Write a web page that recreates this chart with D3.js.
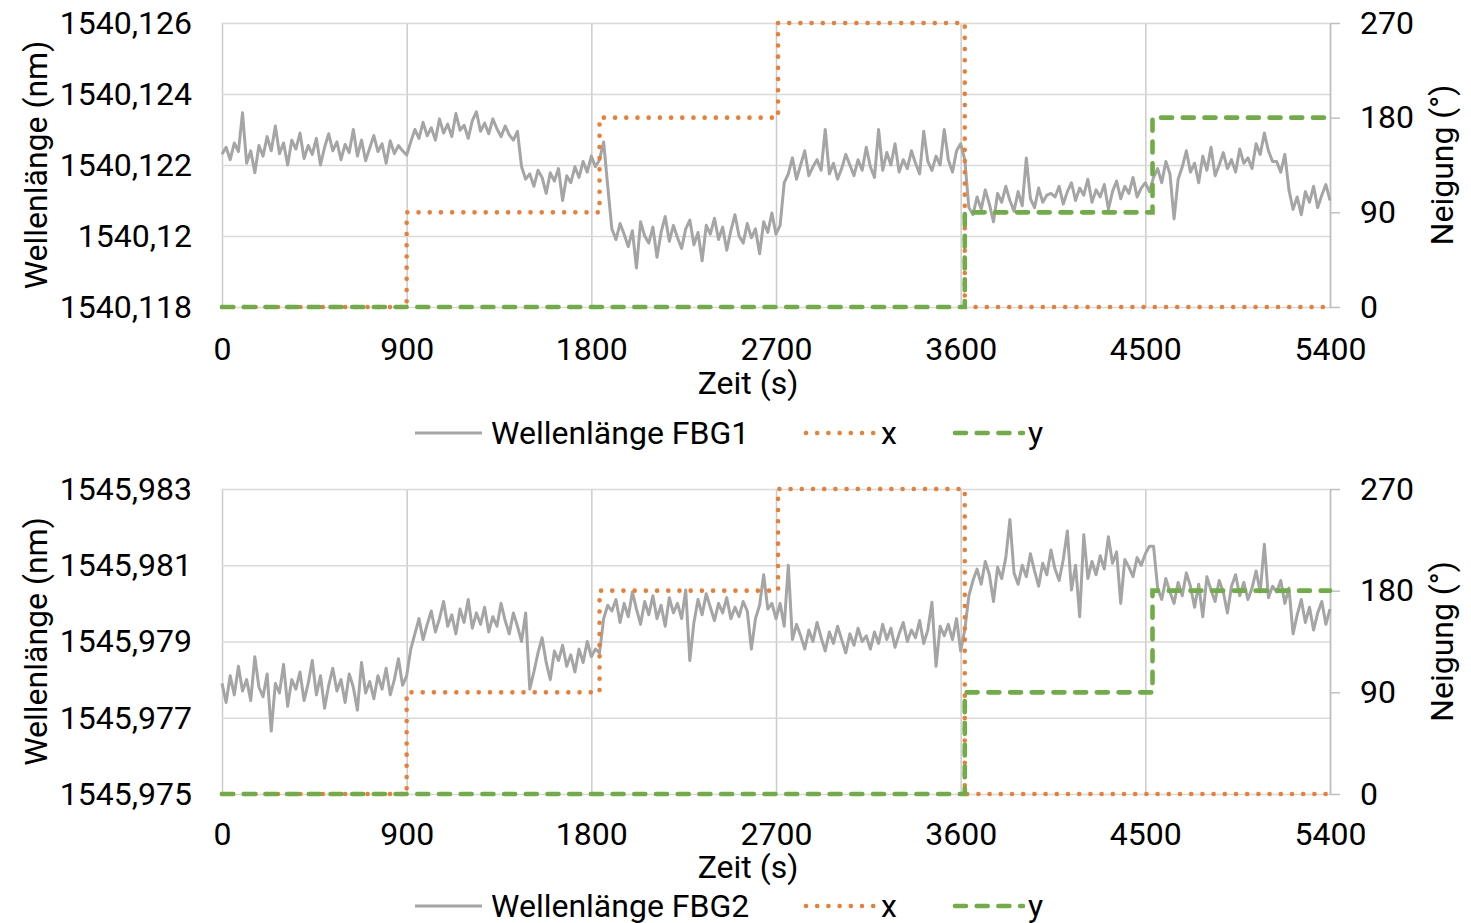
<!DOCTYPE html>
<html>
<head>
<meta charset="utf-8">
<script src="https://cdn.jsdelivr.net/npm/d3@7"></script>
<style>
  body { margin: 0; background: #fff; }
  text { font-family: Roboto, "Noto Sans", sans-serif; }
</style>
</head>
<body>
<svg id="chart" width="1471" height="923"></svg>
<script>
// sampling interval of the wavelength series (s)
var sampleStep = 20;

// Wellenlänge FBG1 (nm), one value every 20 s from 0 to 5400 s
var fbg1 = [
  1540.1223, 1540.1225, 1540.12215, 1540.12262, 1540.12238, 1540.12347, 1540.12205, 1540.1224, 1540.12178, 1540.12255,
  1540.12225, 1540.1228, 1540.1224, 1540.1231, 1540.12232, 1540.12262, 1540.122, 1540.1227, 1540.12245, 1540.1229,
  1540.12218, 1540.12255, 1540.1223, 1540.12275, 1540.122, 1540.1225, 1540.12288, 1540.1224, 1540.12265, 1540.12215,
  1540.12258, 1540.12235, 1540.123, 1540.12225, 1540.1227, 1540.12212, 1540.12248, 1540.12283, 1540.12238, 1540.1226,
  1540.12205, 1540.12268, 1540.12232, 1540.12255, 1540.1224, 1540.12228,
  1540.12265, 1540.123, 1540.12275, 1540.1232, 1540.12282,
  1540.12305, 1540.1227, 1540.1233, 1540.1229, 1540.12315,
  1540.1228, 1540.12345, 1540.12298, 1540.12312, 1540.12275,
  1540.12325, 1540.1235, 1540.12295, 1540.12318, 1540.12288,
  1540.1233, 1540.12302, 1540.1228, 1540.1231, 1540.12285, 1540.1227, 1540.12295,
  1540.12195, 1540.1216, 1540.12175, 1540.1214, 1540.12185, 1540.12165, 1540.1212, 1540.12178, 1540.12155, 1540.1219,
  1540.121, 1540.1217, 1540.1215, 1540.12195, 1540.12165, 1540.1221, 1540.1218, 1540.12225, 1540.12195,
  1540.12215, 1540.12265, 1540.1214,
  1540.1202, 1540.1199, 1540.12035, 1540.12005, 1540.1197, 1540.12015, 1540.1191, 1540.1204, 1540.12, 1540.1198,
  1540.12025, 1540.1194, 1540.1201, 1540.12055, 1540.11985, 1540.1203, 1540.11995, 1540.11965, 1540.1202, 1540.12045,
  1540.11975, 1540.1201, 1540.1193, 1540.1203, 1540.12005, 1540.1205, 1540.1199, 1540.12025, 1540.1196, 1540.12015,
  1540.1206, 1540.12, 1540.1198, 1540.12035, 1540.11995, 1540.1202, 1540.1195, 1540.1204, 1540.1201, 1540.12065,
  1540.12005, 1540.1203,
  1540.1215, 1540.12175, 1540.1222, 1540.1216, 1540.122, 1540.1224, 1540.1217, 1540.12195, 1540.12215, 1540.12185,
  1540.123, 1540.12175, 1540.12205, 1540.1216, 1540.1219, 1540.1223, 1540.122, 1540.1217, 1540.12215, 1540.12185,
  1540.1225, 1540.12195, 1540.12165, 1540.123, 1540.12185, 1540.12235, 1540.122, 1540.1226, 1540.1218, 1540.12215,
  1540.1219, 1540.1224, 1540.12205, 1540.12175, 1540.12295, 1540.1221, 1540.12185, 1540.12225, 1540.122, 1540.123,
  1540.12215, 1540.1218, 1540.1224, 1540.1226, 1540.12215,
  1540.1208, 1540.1206, 1540.1211, 1540.12075, 1540.1213, 1540.1209, 1540.1204, 1540.1212, 1540.12095, 1540.1214,
  1540.121, 1540.1207, 1540.12125, 1540.12085, 1540.1222, 1540.12105, 1540.1208, 1540.12135, 1540.12095, 1540.12115,
  1540.1212, 1540.1211, 1540.1214, 1540.1209, 1540.12125, 1540.1215, 1540.121, 1540.12135, 1540.12115, 1540.1216,
  1540.12095, 1540.1213, 1540.1211, 1540.12145, 1540.12075, 1540.12125, 1540.12155, 1540.12105, 1540.1214, 1540.1212,
  1540.12165, 1540.1211, 1540.12135, 1540.1215, 1540.12125,
  1540.12165, 1540.1219, 1540.1215, 1540.1221, 1540.12175, 1540.12048, 1540.1216, 1540.12195, 1540.1224, 1540.1218,
  1540.12205, 1540.1215, 1540.12225, 1540.12185, 1540.1225, 1540.1217, 1540.122, 1540.12235, 1540.1219, 1540.12215,
  1540.1218, 1540.12245, 1540.12205, 1540.1222, 1540.1219, 1540.1226, 1540.1223, 1540.1229, 1540.1224, 1540.1221,
  1540.1221, 1540.1218, 1540.1223, 1540.1213, 1540.12075, 1540.1211, 1540.1206, 1540.12125, 1540.12095, 1540.1214,
  1540.1208, 1540.12115, 1540.12145, 1540.121
];

// Wellenlänge FBG2 (nm), one value every 20 s from 0 to 5400 s
var fbg2 = [
  1545.9779, 1545.9774, 1545.9781, 1545.9776, 1545.97835, 1545.9777, 1545.978, 1545.97745, 1545.9786, 1545.9778,
  1545.97755, 1545.97815, 1545.97665, 1545.9779, 1545.97765, 1545.9784, 1545.9773, 1545.978, 1545.97775, 1545.9782,
  1545.97745, 1545.9779, 1545.9785, 1545.9776, 1545.9781, 1545.97725, 1545.97785, 1545.9783, 1545.9777, 1545.978,
  1545.9774, 1545.97815, 1545.9778, 1545.9772, 1545.97845, 1545.97765, 1545.97795, 1545.9775, 1545.9781, 1545.97775,
  1545.9783, 1545.9776, 1545.978, 1545.97855, 1545.97785, 1545.9781,
  1545.9788, 1545.9792, 1545.9796, 1545.97905, 1545.97945, 1545.9798, 1545.97925, 1545.9796, 1545.98005, 1545.9794,
  1545.9797, 1545.9792, 1545.97985, 1545.9795, 1545.9801, 1545.97935, 1545.97975, 1545.97945, 1545.9799, 1545.97925,
  1545.97965, 1545.9794, 1545.98, 1545.97955, 1545.9792, 1545.97975, 1545.9794,
  1545.979, 1545.97975, 1545.97775, 1545.9782, 1545.9787, 1545.9791, 1545.97845, 1545.978, 1545.97875, 1545.9785,
  1545.9789, 1545.97835, 1545.97865, 1545.9782, 1545.9788, 1545.97845, 1545.979, 1545.9786, 1545.9788,
  1545.9787, 1545.9796, 1545.97995,
  1545.9798, 1545.9801, 1545.9795, 1545.98, 1545.97965, 1545.9803, 1545.97985, 1545.97945, 1545.98005, 1545.9797,
  1545.9802, 1545.9796, 1545.97995, 1545.9794, 1545.98015, 1545.97975, 1545.98, 1545.9796, 1545.98035, 1545.9785,
  1545.9795, 1545.9801, 1545.9797, 1545.98025, 1545.9799, 1545.97955, 1545.98, 1545.97975, 1545.98015, 1545.9796,
  1545.9799, 1545.97965, 1545.98005, 1545.9798, 1545.9788, 1545.9796, 1545.97995, 1545.98075, 1545.97985, 1545.98,
  1545.9796, 1545.98,
  1545.9794, 1545.981, 1545.97905, 1545.97945, 1545.97915, 1545.9788, 1545.9793, 1545.979, 1545.9795, 1545.9791,
  1545.97875, 1545.97925, 1545.97895, 1545.9794, 1545.97905, 1545.9787, 1545.9792, 1545.9789, 1545.97935, 1545.979,
  1545.97915, 1545.9788, 1545.97925, 1545.97895, 1545.97945, 1545.97905, 1545.97935, 1545.97885, 1545.9792, 1545.9795,
  1545.979, 1545.9793, 1545.9791, 1545.97955, 1545.97895, 1545.9793, 1545.98003, 1545.97835, 1545.9794, 1545.97915,
  1545.97945, 1545.97905, 1545.9796, 1545.97875, 1545.9793,
  1545.9802, 1545.9806, 1545.9809, 1545.9805, 1545.9811, 1545.98075, 1545.98005, 1545.98095, 1545.98065, 1545.9812,
  1545.9822, 1545.9808, 1545.9805, 1545.981, 1545.9807, 1545.9813, 1545.98085, 1545.98045, 1545.98105, 1545.98075,
  1545.9814, 1545.9809, 1545.9806, 1545.98115, 1545.9819, 1545.98035, 1545.981, 1545.97965, 1545.9818, 1545.98065,
  1545.9811, 1545.98075, 1545.98125, 1545.9809, 1545.98175, 1545.98105, 1545.98135, 1545.98, 1545.98115, 1545.98095,
  1545.9807, 1545.9812, 1545.981, 1545.9813, 1545.9815,
  1545.9815, 1545.9804, 1545.9801, 1545.98065, 1545.9803, 1545.98, 1545.98055, 1545.9802, 1545.9808, 1545.98045,
  1545.9799, 1545.9805, 1545.97965, 1545.9807, 1545.98035, 1545.98005, 1545.9806, 1545.9803, 1545.97975, 1545.98045,
  1545.98075, 1545.9802, 1545.98055, 1545.9801, 1545.9804, 1545.98085, 1545.9803, 1545.98155, 1545.98015, 1545.98045,
  1545.9803, 1545.9806, 1545.98, 1545.9804, 1545.9792, 1545.9797, 1545.9801, 1545.9795, 1545.9799, 1545.9793,
  1545.97975, 1545.98005, 1545.97945, 1545.97985
];

// inclination steps (same for both sensors)
var xStepTimes = [0, 900, 1840, 2710, 3620, 5400];
var xStepAngles = [0, 90, 180, 270, 0, 0];
var yStepTimes = [0, 3620, 4535, 5400];
var yStepAngles = [0, 90, 180, 180];

// axis ticks
var timeTicks = [0, 900, 1800, 2700, 3600, 4500, 5400];
var angleTicks = [0, 90, 180, 270];
var wlTicks1 = [1540.118, 1540.120, 1540.122, 1540.124, 1540.126];
var wlTicks2 = [1545.975, 1545.977, 1545.979, 1545.981, 1545.983];
var legendNames = ["Wellenlänge FBG1", "Wellenlänge FBG2"];

var plotLeft = 222, plotRight = 1330;
var fontSize = 32;
var grey = "#a5a5a5", orange = "#ed7d31", green = "#70ad47";
var greyWidth = 3, dotWidth = 4.6, dashWidth = 4.6;

var deFormat = d3.formatLocale({decimal: ",", thousands: ".", grouping: [3], currency: ["", "€"]}).format(".3~f");

var svg = d3.select("#chart");

var x = d3.scaleLinear().domain([0, 5400]).range([plotLeft, plotRight]);

function drawPanel(cfg) {
  var g = svg.append("g");
  var y = d3.scaleLinear().domain([cfg.ticks[0], cfg.ticks[cfg.ticks.length - 1]]).range([cfg.bottom, cfg.top]);
  var y2 = d3.scaleLinear().domain([0, 270]).range([cfg.bottom, cfg.top]);

  // vertical gridlines + time labels
  var xg = g.append("g")
      .attr("transform", "translate(0," + cfg.bottom + ")")
      .call(d3.axisBottom(x).tickValues(timeTicks).tickSize(-(cfg.bottom - cfg.top)).tickPadding(cfg.xPad).tickFormat(d3.format("d")));
  xg.select(".domain").remove();
  xg.selectAll(".tick line").attr("stroke", "#cccccc").attr("stroke-width", 1.5);
  xg.selectAll("text").attr("font-size", fontSize).attr("font-family", "Roboto").attr("fill", "#000");

  // horizontal gridlines + wavelength labels
  var yg = g.append("g")
      .attr("transform", "translate(" + plotLeft + ",0)")
      .call(d3.axisLeft(y).tickValues(cfg.ticks).tickSize(-(plotRight - plotLeft)).tickPadding(30).tickFormat(deFormat));
  yg.select(".domain").remove();
  yg.selectAll(".tick line").attr("stroke", "#d9d9d9").attr("stroke-width", 1.5);
  yg.selectAll("text").attr("font-size", fontSize).attr("font-family", "Roboto").attr("fill", "#000");

  // secondary axis (Neigung)
  var y2g = g.append("g")
      .attr("transform", "translate(" + plotRight + ",0)")
      .call(d3.axisRight(y2).tickValues(angleTicks).tickSize(10).tickSizeOuter(0).tickPadding(20));
  y2g.select(".domain").attr("stroke", "#bfbfbf").attr("stroke-width", 1.5);
  y2g.selectAll(".tick line").attr("stroke", "#bfbfbf").attr("stroke-width", 1.5);
  y2g.selectAll("text").attr("font-size", fontSize).attr("font-family", "Roboto").attr("fill", "#000");

  // wavelength series
  var wl = d3.line()
      .x(function(d, i) { return x(i * sampleStep); })
      .y(function(d) { return y(d); });
  g.append("path")
      .datum(cfg.series)
      .attr("d", wl)
      .attr("fill", "none")
      .attr("stroke", grey)
      .attr("stroke-width", greyWidth)
      .attr("stroke-linejoin", "round");

  var step = d3.line()
      .x(function(d) { return x(d[0]); })
      .y(function(d) { return y2(d[1]); })
      .curve(d3.curveStepAfter);

  g.append("path")
      .datum(d3.zip(xStepTimes, xStepAngles))
      .attr("d", step)
      .attr("fill", "none")
      .attr("stroke", orange)
      .attr("stroke-width", dotWidth)
      .attr("stroke-linecap", "round")
      .attr("stroke-dasharray", "0 11.2");

  g.append("path")
      .datum(d3.zip(yStepTimes, yStepAngles))
      .attr("d", step)
      .attr("fill", "none")
      .attr("stroke", green)
      .attr("stroke-width", dashWidth)
      .attr("stroke-linecap", "round")
      .attr("stroke-dasharray", "11 10.7");

  // axis titles
  var midY = (cfg.top + cfg.bottom) / 2;
  g.append("text")
      .attr("transform", "translate(36," + midY + ") rotate(-90)")
      .attr("text-anchor", "middle")
      .attr("dy", "0.35em")
      .attr("font-size", fontSize)
      .text("Wellenlänge (nm)");
  g.append("text")
      .attr("transform", "translate(1442," + midY + ") rotate(-90)")
      .attr("text-anchor", "middle")
      .attr("dy", "0.35em")
      .attr("font-size", fontSize)
      .text("Neigung (°)");
  g.append("text")
      .attr("x", 748)
      .attr("y", cfg.titleY)
      .attr("text-anchor", "middle")
      .attr("dy", "0.35em")
      .attr("font-size", fontSize)
      .text("Zeit (s)");

  // legend
  var ly = cfg.legendY;
  var lg = g.append("g");
  lg.append("line").attr("x1", 415).attr("x2", 482).attr("y1", ly).attr("y2", ly)
      .attr("stroke", grey).attr("stroke-width", greyWidth);
  lg.append("text").attr("x", 491).attr("y", ly).attr("dy", "0.35em").attr("font-size", fontSize).text(cfg.name);
  lg.append("line").attr("x1", 806).attr("x2", 876).attr("y1", ly).attr("y2", ly)
      .attr("stroke", orange).attr("stroke-width", dotWidth).attr("stroke-linecap", "round").attr("stroke-dasharray", "0 11.2");
  lg.append("text").attr("x", 881).attr("y", ly).attr("dy", "0.35em").attr("font-size", fontSize).text("x");
  lg.append("line").attr("x1", 955).attr("x2", 1023).attr("y1", ly).attr("y2", ly)
      .attr("stroke", green).attr("stroke-width", dashWidth).attr("stroke-linecap", "round").attr("stroke-dasharray", "11 10.7");
  lg.append("text").attr("x", 1028).attr("y", ly).attr("dy", "0.35em").attr("font-size", fontSize).text("y");
}

drawPanel({top: 23, bottom: 307, ticks: wlTicks1, series: fbg1, name: legendNames[0], xPad: 30, titleY: 383, legendY: 433});
drawPanel({top: 489, bottom: 794, ticks: wlTicks2, series: fbg2, name: legendNames[1], xPad: 28, titleY: 867, legendY: 906});
</script>
</body>
</html>
